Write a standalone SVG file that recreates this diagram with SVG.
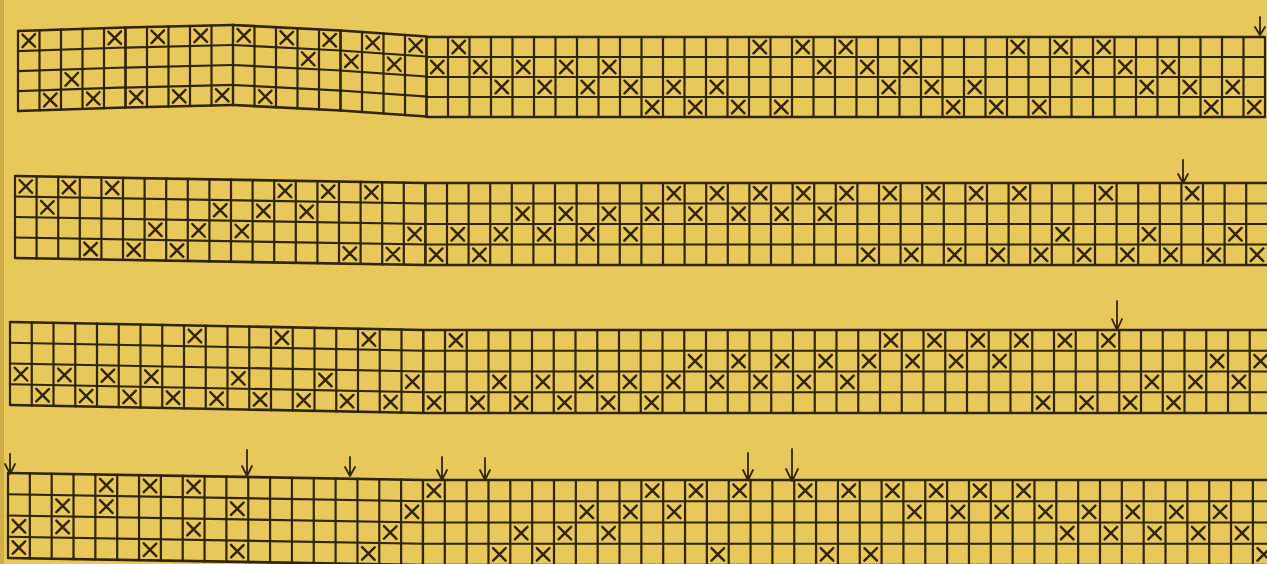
<svg xmlns="http://www.w3.org/2000/svg" width="1267" height="564" viewBox="0 0 1267 564">
<style>
.ln{fill:none;stroke:#33230d;stroke-width:2.2;stroke-linecap:square}
.ed{fill:none;stroke:#33230d;stroke-width:2.7}
.mk{fill:none;stroke:#33230d;stroke-width:2.4;stroke-linecap:round}
.ar{fill:none;stroke:#33230d;stroke-width:1.8;stroke-linecap:round;stroke-linejoin:round}
</style>
<defs>
<path id="x" d="M-6.3,-6.3L6.3,6.3M6.3,-6.3L-6.3,6.3"/>
</defs>
<rect width="1267" height="564" fill="#e7c85a"/>
<rect width="4" height="564" fill="#cfae48"/>

<g id="strip1">
<g transform="matrix(1,-0.03256,0,1,0,31.586)">
<path class="ln" d="M18,0v80m21.5,-80v80m21.5,-80v80m21.5,-80v80m21.5,-80v80m21.5,-80v80"/>
<path class="ln" d="M18,20H125.5M18,40H125.5M18,60H125.5"/>
<path class="ed" d="M18,0H125.5M18,80H125.5"/>
<g class="mk">
<use href="#x" x="28.75" y="10"/><use href="#x" x="114.75" y="10"/>
<use href="#x" x="71.75" y="50"/>
<use href="#x" x="50.25" y="70"/><use href="#x" x="93.25" y="70"/>
</g>
</g>
<g transform="matrix(1,-0.02326,0,1,0,30.419)">
<path class="ln" d="M125.5,0v80m21.5,-80v80m21.5,-80v80m21.5,-80v80m21.5,-80v80m21.5,-80v80"/>
<path class="ln" d="M125.5,20H233M125.5,40H233M125.5,60H233"/>
<path class="ed" d="M125.5,0H233M125.5,80H233"/>
<g class="mk">
<use href="#x" x="157.75" y="10"/><use href="#x" x="200.75" y="10"/>
<use href="#x" x="136.25" y="70"/><use href="#x" x="179.25" y="70"/><use href="#x" x="222.25" y="70"/>
</g>
</g>
<g transform="matrix(1,0.05116,0,1,0,13.079)">
<path class="ln" d="M233,0v80m21.5,-80v80m21.5,-80v80m21.5,-80v80m21.5,-80v80m21.5,-80v80"/>
<path class="ln" d="M233,20H340.5M233,40H340.5M233,60H340.5"/>
<path class="ed" d="M233,0H340.5M233,80H340.5"/>
<g class="mk">
<use href="#x" x="243.75" y="10"/><use href="#x" x="286.75" y="10"/><use href="#x" x="329.75" y="10"/>
<use href="#x" x="308.25" y="30"/>
<use href="#x" x="265.25" y="70"/>
</g>
</g>
<g transform="matrix(1,0.06977,0,1,0,6.744)">
<path class="ln" d="M340.5,0v80m21.5,-80v80m21.5,-80v80m21.5,-80v80m21.5,-80v80"/>
<path class="ln" d="M340.5,20H426.5M340.5,40H426.5M340.5,60H426.5"/>
<path class="ed" d="M340.5,0H426.5M340.5,80H426.5"/>
<g class="mk">
<use href="#x" x="372.75" y="10"/><use href="#x" x="415.75" y="10"/>
<use href="#x" x="351.25" y="30"/><use href="#x" x="394.25" y="30"/>
</g>
</g>
<g transform="translate(0,37)">
<path class="ln" d="M426.5,0v80m21.5,-80v80m21.5,-80v80m21.5,-80v80m21.5,-80v80m21.5,-80v80m21.5,-80v80m21.5,-80v80m21.5,-80v80m21.5,-80v80m21.5,-80v80m21.5,-80v80m21.5,-80v80m21.5,-80v80m21.5,-80v80m21.5,-80v80m21.5,-80v80m21.5,-80v80m21.5,-80v80m21.5,-80v80m21.5,-80v80m21.5,-80v80m21.5,-80v80m21.5,-80v80m21.5,-80v80m21.5,-80v80m21.5,-80v80m21.5,-80v80m21.5,-80v80m21.5,-80v80m21.5,-80v80m21.5,-80v80m21.5,-80v80m21.5,-80v80m21.5,-80v80m21.5,-80v80m21.5,-80v80m21.5,-80v80m21.5,-80v80m21.5,-80v80"/>
<path class="ln" d="M426.5,20H1265M426.5,40H1265M426.5,60H1265"/>
<path class="ed" d="M426.5,0H1265M426.5,80H1265"/>
<g class="mk">
<use href="#x" x="458.75" y="10"/><use href="#x" x="759.75" y="10"/><use href="#x" x="802.75" y="10"/><use href="#x" x="845.75" y="10"/><use href="#x" x="1017.75" y="10"/><use href="#x" x="1060.75" y="10"/><use href="#x" x="1103.75" y="10"/>
<use href="#x" x="437.25" y="30"/><use href="#x" x="480.25" y="30"/><use href="#x" x="523.25" y="30"/><use href="#x" x="566.25" y="30"/><use href="#x" x="609.25" y="30"/><use href="#x" x="824.25" y="30"/><use href="#x" x="867.25" y="30"/><use href="#x" x="910.25" y="30"/><use href="#x" x="1082.25" y="30"/><use href="#x" x="1125.25" y="30"/><use href="#x" x="1168.25" y="30"/>
<use href="#x" x="501.75" y="50"/><use href="#x" x="544.75" y="50"/><use href="#x" x="587.75" y="50"/><use href="#x" x="630.75" y="50"/><use href="#x" x="673.75" y="50"/><use href="#x" x="716.75" y="50"/><use href="#x" x="888.75" y="50"/><use href="#x" x="931.75" y="50"/><use href="#x" x="974.75" y="50"/><use href="#x" x="1146.75" y="50"/><use href="#x" x="1189.75" y="50"/><use href="#x" x="1232.75" y="50"/>
<use href="#x" x="652.25" y="70"/><use href="#x" x="695.25" y="70"/><use href="#x" x="738.25" y="70"/><use href="#x" x="781.25" y="70"/><use href="#x" x="953.25" y="70"/><use href="#x" x="996.25" y="70"/><use href="#x" x="1039.25" y="70"/><use href="#x" x="1211.25" y="70"/><use href="#x" x="1254.25" y="70"/>
</g>
</g>
</g>

<g id="strip2">
<g transform="matrix(1,0.017057,0,1,0,175.744)">
<path class="ln" d="M15,0v82m21.6,-82v82m21.6,-82v82m21.6,-82v82m21.6,-82v82m21.6,-82v82m21.6,-82v82m21.6,-82v82m21.6,-82v82m21.6,-82v82m21.6,-82v82m21.6,-82v82m21.6,-82v82m21.6,-82v82m21.6,-82v82m21.6,-82v82m21.6,-82v82m21.6,-82v82m21.6,-82v82m21.6,-82v82"/>
<path class="ln" d="M15,20.5H425.4M15,41H425.4M15,61.5H425.4"/>
<path class="ed" d="M15,0H425.4M15,82H425.4"/>
<g class="mk">
<use href="#x" x="25.8" y="10.25"/><use href="#x" x="69" y="10.25"/><use href="#x" x="112.2" y="10.25"/><use href="#x" x="285" y="10.25"/><use href="#x" x="328.2" y="10.25"/><use href="#x" x="371.4" y="10.25"/>
<use href="#x" x="47.4" y="30.75"/><use href="#x" x="220.2" y="30.75"/><use href="#x" x="263.4" y="30.75"/><use href="#x" x="306.6" y="30.75"/>
<use href="#x" x="155.4" y="51.25"/><use href="#x" x="198.6" y="51.25"/><use href="#x" x="241.8" y="51.25"/><use href="#x" x="414.6" y="51.25"/>
<use href="#x" x="90.6" y="71.75"/><use href="#x" x="133.8" y="71.75"/><use href="#x" x="177" y="71.75"/><use href="#x" x="349.8" y="71.75"/><use href="#x" x="393" y="71.75"/>
</g>
</g>
<g transform="translate(0,183)">
<path class="ln" d="M425.4,0v82m21.6,-82v82m21.6,-82v82m21.6,-82v82m21.6,-82v82m21.6,-82v82m21.6,-82v82m21.6,-82v82m21.6,-82v82m21.6,-82v82m21.6,-82v82m21.6,-82v82m21.6,-82v82m21.6,-82v82m21.6,-82v82m21.6,-82v82m21.6,-82v82m21.6,-82v82m21.6,-82v82m21.6,-82v82m21.6,-82v82m21.6,-82v82m21.6,-82v82m21.6,-82v82m21.6,-82v82m21.6,-82v82m21.6,-82v82m21.6,-82v82m21.6,-82v82m21.6,-82v82m21.6,-82v82m21.6,-82v82m21.6,-82v82m21.6,-82v82m21.6,-82v82m21.6,-82v82m21.6,-82v82m21.6,-82v82m21.6,-82v82"/>
<path class="ln" d="M425.4,20.5H1267M425.4,41H1267M425.4,61.5H1267"/>
<path class="ed" d="M425.4,0H1267M425.4,82H1267"/>
<g class="mk">
<use href="#x" x="673.8" y="10.25"/><use href="#x" x="717" y="10.25"/><use href="#x" x="760.2" y="10.25"/><use href="#x" x="803.4" y="10.25"/><use href="#x" x="846.6" y="10.25"/><use href="#x" x="889.8" y="10.25"/><use href="#x" x="933" y="10.25"/><use href="#x" x="976.2" y="10.25"/><use href="#x" x="1019.4" y="10.25"/><use href="#x" x="1105.8" y="10.25"/><use href="#x" x="1192.2" y="10.25"/>
<use href="#x" x="522.6" y="30.75"/><use href="#x" x="565.8" y="30.75"/><use href="#x" x="609" y="30.75"/><use href="#x" x="652.2" y="30.75"/><use href="#x" x="695.4" y="30.75"/><use href="#x" x="738.6" y="30.75"/><use href="#x" x="781.8" y="30.75"/><use href="#x" x="825" y="30.75"/>
<use href="#x" x="457.8" y="51.25"/><use href="#x" x="501" y="51.25"/><use href="#x" x="544.2" y="51.25"/><use href="#x" x="587.4" y="51.25"/><use href="#x" x="630.6" y="51.25"/><use href="#x" x="1062.6" y="51.25"/><use href="#x" x="1149" y="51.25"/><use href="#x" x="1235.4" y="51.25"/>
<use href="#x" x="436.2" y="71.75"/><use href="#x" x="479.4" y="71.75"/><use href="#x" x="868.2" y="71.75"/><use href="#x" x="911.4" y="71.75"/><use href="#x" x="954.6" y="71.75"/><use href="#x" x="997.8" y="71.75"/><use href="#x" x="1041" y="71.75"/><use href="#x" x="1084.2" y="71.75"/><use href="#x" x="1127.4" y="71.75"/><use href="#x" x="1170.6" y="71.75"/><use href="#x" x="1213.8" y="71.75"/><use href="#x" x="1257" y="71.75"/>
</g>
</g>
</g>

<g id="strip3">
<g transform="matrix(1,0.019359,0,1,0,321.806)">
<path class="ln" d="M10,0v83m21.75,-83v83m21.75,-83v83m21.75,-83v83m21.75,-83v83m21.75,-83v83m21.75,-83v83m21.75,-83v83m21.75,-83v83m21.75,-83v83m21.75,-83v83m21.75,-83v83m21.75,-83v83m21.75,-83v83m21.75,-83v83m21.75,-83v83m21.75,-83v83m21.75,-83v83m21.75,-83v83m21.75,-83v83"/>
<path class="ln" d="M10,20.75H423.25M10,41.5H423.25M10,62.25H423.25"/>
<path class="ed" d="M10,0H423.25M10,83H423.25"/>
<g class="mk">
<use href="#x" x="194.9" y="10.4"/><use href="#x" x="281.9" y="10.4"/><use href="#x" x="368.9" y="10.4"/>
<use href="#x" x="20.9" y="51.9"/><use href="#x" x="64.4" y="51.9"/><use href="#x" x="107.9" y="51.9"/><use href="#x" x="151.4" y="51.9"/><use href="#x" x="238.4" y="51.9"/><use href="#x" x="325.4" y="51.9"/><use href="#x" x="412.4" y="51.9"/>
<use href="#x" x="42.6" y="72.6"/><use href="#x" x="86.1" y="72.6"/><use href="#x" x="129.6" y="72.6"/><use href="#x" x="173.1" y="72.6"/><use href="#x" x="216.6" y="72.6"/><use href="#x" x="260.1" y="72.6"/><use href="#x" x="303.6" y="72.6"/><use href="#x" x="347.1" y="72.6"/><use href="#x" x="390.6" y="72.6"/>
</g>
</g>
<g transform="translate(0,330)">
<path class="ln" d="M423.25,0v83m21.75,-83v83m21.75,-83v83m21.75,-83v83m21.75,-83v83m21.75,-83v83m21.75,-83v83m21.75,-83v83m21.75,-83v83m21.75,-83v83m21.75,-83v83m21.75,-83v83m21.75,-83v83m21.75,-83v83m21.75,-83v83m21.75,-83v83m21.75,-83v83m21.75,-83v83m21.75,-83v83m21.75,-83v83m21.75,-83v83m21.75,-83v83m21.75,-83v83m21.75,-83v83m21.75,-83v83m21.75,-83v83m21.75,-83v83m21.75,-83v83m21.75,-83v83m21.75,-83v83m21.75,-83v83m21.75,-83v83m21.75,-83v83m21.75,-83v83m21.75,-83v83m21.75,-83v83m21.75,-83v83m21.75,-83v83m21.75,-83v83"/>
<path class="ln" d="M423.25,20.75H1267M423.25,41.5H1267M423.25,62.25H1267"/>
<path class="ed" d="M423.25,0H1267M423.25,83H1267"/>
<g class="mk">
<use href="#x" x="455.9" y="10.4"/><use href="#x" x="890.9" y="10.4"/><use href="#x" x="934.4" y="10.4"/><use href="#x" x="977.9" y="10.4"/><use href="#x" x="1021.4" y="10.4"/><use href="#x" x="1064.9" y="10.4"/><use href="#x" x="1108.4" y="10.4"/>
<use href="#x" x="695.1" y="31.1"/><use href="#x" x="738.6" y="31.1"/><use href="#x" x="782.1" y="31.1"/><use href="#x" x="825.6" y="31.1"/><use href="#x" x="869.1" y="31.1"/><use href="#x" x="912.6" y="31.1"/><use href="#x" x="956.1" y="31.1"/><use href="#x" x="999.6" y="31.1"/><use href="#x" x="1217.1" y="31.1"/><use href="#x" x="1260.6" y="31.1"/>
<use href="#x" x="499.4" y="51.9"/><use href="#x" x="542.9" y="51.9"/><use href="#x" x="586.4" y="51.9"/><use href="#x" x="629.9" y="51.9"/><use href="#x" x="673.4" y="51.9"/><use href="#x" x="716.9" y="51.9"/><use href="#x" x="760.4" y="51.9"/><use href="#x" x="803.9" y="51.9"/><use href="#x" x="847.4" y="51.9"/><use href="#x" x="1151.9" y="51.9"/><use href="#x" x="1195.4" y="51.9"/><use href="#x" x="1238.9" y="51.9"/>
<use href="#x" x="434.1" y="72.6"/><use href="#x" x="477.6" y="72.6"/><use href="#x" x="521.1" y="72.6"/><use href="#x" x="564.6" y="72.6"/><use href="#x" x="608.1" y="72.6"/><use href="#x" x="651.6" y="72.6"/><use href="#x" x="1043.1" y="72.6"/><use href="#x" x="1086.6" y="72.6"/><use href="#x" x="1130.1" y="72.6"/><use href="#x" x="1173.6" y="72.6"/>
</g>
</g>
</g>

<g id="strip4">
<g transform="matrix(1,0.016869,0,1,0,472.865)">
<path class="ln" d="M8,0v85m21.84,-85v85m21.84,-85v85m21.84,-85v85m21.84,-85v85m21.84,-85v85m21.84,-85v85m21.84,-85v85m21.84,-85v85m21.84,-85v85m21.84,-85v85m21.84,-85v85m21.84,-85v85m21.84,-85v85m21.84,-85v85m21.84,-85v85m21.84,-85v85m21.84,-85v85m21.84,-85v85m21.84,-85v85"/>
<path class="ln" d="M8,21.25H422.96M8,42.5H422.96M8,63.75H422.96"/>
<path class="ed" d="M8,0H422.96M8,85H422.96"/>
<g class="mk">
<use href="#x" x="106.3" y="10.6"/><use href="#x" x="150" y="10.6"/><use href="#x" x="193.6" y="10.6"/>
<use href="#x" x="62.6" y="31.9"/><use href="#x" x="106.3" y="31.9"/><use href="#x" x="237.3" y="31.9"/><use href="#x" x="412" y="31.9"/>
<use href="#x" x="18.9" y="53.1"/><use href="#x" x="62.6" y="53.1"/><use href="#x" x="193.6" y="53.1"/><use href="#x" x="390.2" y="53.1"/>
<use href="#x" x="18.9" y="74.4"/><use href="#x" x="150" y="74.4"/><use href="#x" x="237.3" y="74.4"/><use href="#x" x="368.4" y="74.4"/>
</g>
</g>
<g transform="translate(0,480)">
<path class="ln" d="M422.96,0v85m21.84,-85v85m21.84,-85v85m21.84,-85v85m21.84,-85v85m21.84,-85v85m21.84,-85v85m21.84,-85v85m21.84,-85v85m21.84,-85v85m21.84,-85v85m21.84,-85v85m21.84,-85v85m21.84,-85v85m21.84,-85v85m21.84,-85v85m21.84,-85v85m21.84,-85v85m21.84,-85v85m21.84,-85v85m21.84,-85v85m21.84,-85v85m21.84,-85v85m21.84,-85v85m21.84,-85v85m21.84,-85v85m21.84,-85v85m21.84,-85v85m21.84,-85v85m21.84,-85v85m21.84,-85v85m21.84,-85v85m21.84,-85v85m21.84,-85v85m21.84,-85v85m21.84,-85v85m21.84,-85v85m21.84,-85v85m21.84,-85v85"/>
<path class="ln" d="M422.96,21.25H1267M422.96,42.5H1267M422.96,63.75H1267"/>
<path class="ed" d="M422.96,0H1267M422.96,85H1267"/>
<g class="mk">
<use href="#x" x="433.9" y="10.6"/><use href="#x" x="652.3" y="10.6"/><use href="#x" x="696" y="10.6"/><use href="#x" x="739.6" y="10.6"/><use href="#x" x="805.2" y="10.6"/><use href="#x" x="848.8" y="10.6"/><use href="#x" x="892.5" y="10.6"/><use href="#x" x="936.2" y="10.6"/><use href="#x" x="979.9" y="10.6"/><use href="#x" x="1023.6" y="10.6"/>
<use href="#x" x="586.8" y="31.9"/><use href="#x" x="630.4" y="31.9"/><use href="#x" x="674.1" y="31.9"/><use href="#x" x="914.4" y="31.9"/><use href="#x" x="958" y="31.9"/><use href="#x" x="1001.7" y="31.9"/><use href="#x" x="1045.4" y="31.9"/><use href="#x" x="1089.1" y="31.9"/><use href="#x" x="1132.8" y="31.9"/><use href="#x" x="1176.4" y="31.9"/><use href="#x" x="1220.1" y="31.9"/>
<use href="#x" x="521.2" y="53.1"/><use href="#x" x="564.9" y="53.1"/><use href="#x" x="608.6" y="53.1"/><use href="#x" x="1067.2" y="53.1"/><use href="#x" x="1110.9" y="53.1"/><use href="#x" x="1154.6" y="53.1"/><use href="#x" x="1198.3" y="53.1"/><use href="#x" x="1242" y="53.1"/>
<use href="#x" x="499.4" y="74.4"/><use href="#x" x="543.1" y="74.4"/><use href="#x" x="717.8" y="74.4"/><use href="#x" x="827" y="74.4"/><use href="#x" x="870.7" y="74.4"/><use href="#x" x="1263.8" y="74.4"/>
</g>
</g>
</g>

<g id="connectors" class="ar">
<path d="M1260,17V35M1255,27L1260,35L1265,27"/>
<path d="M1183,160V183M1178,174L1183,183L1188,174"/>
<path d="M1117,301V330M1112,319L1117,330L1122,319"/>
<path d="M10,454V474M5,464L10,474L15,464"/>
<path d="M247,450V476M242,466L247,476L252,466"/>
<path d="M350,457V476M345,467L350,476L355,467"/>
<path d="M442,457V480M437,470L442,480L447,470"/>
<path d="M485,458V480M480,470L485,480L490,470"/>
<path d="M748,453V480M743,470L748,480L753,470"/>
<path d="M792,449V481M786,469L792,481L798,469"/>
</g>
</svg>
